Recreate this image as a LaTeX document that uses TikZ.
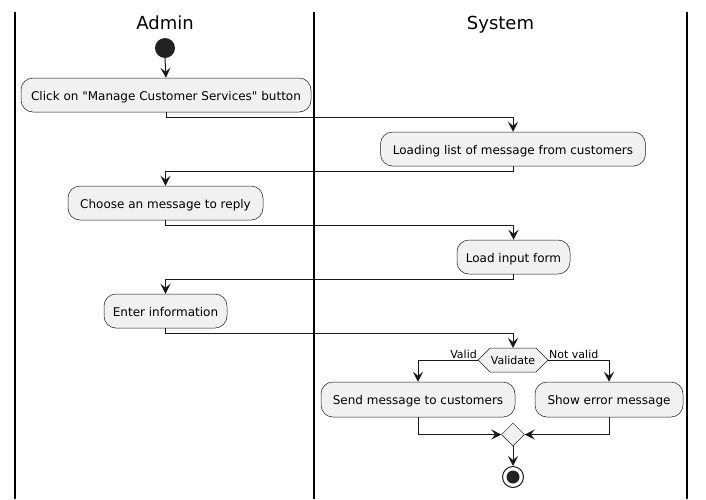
\documentclass[tikz,border=0pt]{standalone}
\usepackage{fontspec}
\setmainfont{DejaVu Sans}[Ligatures=TeXOff]
\usetikzlibrary{arrows.meta,shapes.geometric}
\definecolor{boxfill}{HTML}{F1F1F1}
\definecolor{lineclr}{HTML}{181818}
\definecolor{dot}{HTML}{222222}
\begin{document}
\begin{tikzpicture}[x=1pt,y=-1pt,
  act/.style={draw=lineclr,line width=0.5pt,fill=boxfill,rounded corners=12pt,
    minimum height=34pt,inner sep=0pt,text height=11pt,text depth=1pt,font=\fontsize{12}{14}\selectfont},
  arr/.style={draw=lineclr,line width=1pt,-{Stealth[length=10pt,width=10pt,inset=4pt]}},
  lane/.style={draw=black,line width=1.4pt},
  lbl/.style={font=\fontsize{11}{13}\selectfont,inner sep=1pt},
  head/.style={font=\fontsize{18}{20}\selectfont,inner sep=0pt,anchor=base}]
\useasboundingbox (0,0) rectangle (706,499);
% lanes
\draw[lane] (15,12) -- (15,499);
\draw[lane] (314,12) -- (314,499);
\draw[lane] (687,12) -- (687,499);
\node[head] (hA) at (165,29.5) {Admin};
\node[head] (hS) at (500.5,29.5) {System};
% start
\node[circle,fill=dot,minimum size=20pt,inner sep=0pt] (start) at (165,48) {};
\node[act,minimum width=290pt] (b1) at (166,95) {Click on "Manage Customer Services" button};
\node[act,minimum width=265pt] (b2) at (513,149) {Loading list of message from customers};
\node[act,minimum width=195pt] (b3) at (165.5,203) {Choose an message to reply};
\node[act,minimum width=113pt] (b4) at (513.5,257) {Load input form};
\node[act,minimum width=123pt] (b5) at (165.5,311) {Enter information};
% validate hexagon
\coordinate (valT) at (513,348);
\coordinate (valL) at (478,360);
\coordinate (valR) at (548,360);
\draw[draw=lineclr,line width=0.5pt,fill=boxfill] (478,360) -- (490,348) -- (536,348) -- (548,360) -- (536,372) -- (490,372) -- cycle;
\node[inner sep=0pt,text height=9pt,text depth=1pt,font=\fontsize{11}{13}\selectfont] (val) at (513,360) {Validate};
\node[act,minimum width=194pt,minimum height=35pt] (b6) at (418,399.5) {Send message to customers};
\node[act,minimum width=148pt,minimum height=35pt] (b7) at (609,399.5) {Show error message};
\node[diamond,draw=lineclr,line width=0.5pt,fill=boxfill,minimum size=23pt,inner sep=0pt] (merge) at (513,434.5) {};
% end
\node[circle,draw=lineclr,line width=1pt,fill=white,minimum size=21pt,inner sep=0pt] (stop) at (513,477) {};
\node[circle,fill=dot,minimum size=13pt,inner sep=0pt] (stopin) at (513,477) {};
% connectors
\draw[arr] (start.south) -- (b1.north);
\draw[arr] (b1.south) -- ++(0,5) -| (b2.north);
\draw[arr] (b2.south) -- ++(0,5) -| (b3.north);
\draw[arr] (b3.south) -- ++(0,5) -| (b4.north);
\draw[arr] (b4.south) -- ++(0,5) -| (b5.north);
\draw[arr] (b5.south) -- ++(0,5) -| (valT);
\draw[arr] (valL) -| (b6.north);
\draw[arr] (valR) -| (b7.north);
\node[lbl,anchor=south east] (lv) at (478,360) {Valid};
\node[lbl,anchor=south west] (lnv) at (548,360) {Not valid};
\draw[arr] (b6.south) |- (merge.west);
\draw[arr] (b7.south) |- (merge.east);
\draw[arr] (merge.south) -- (stop.north);
\end{tikzpicture}
\end{document}
